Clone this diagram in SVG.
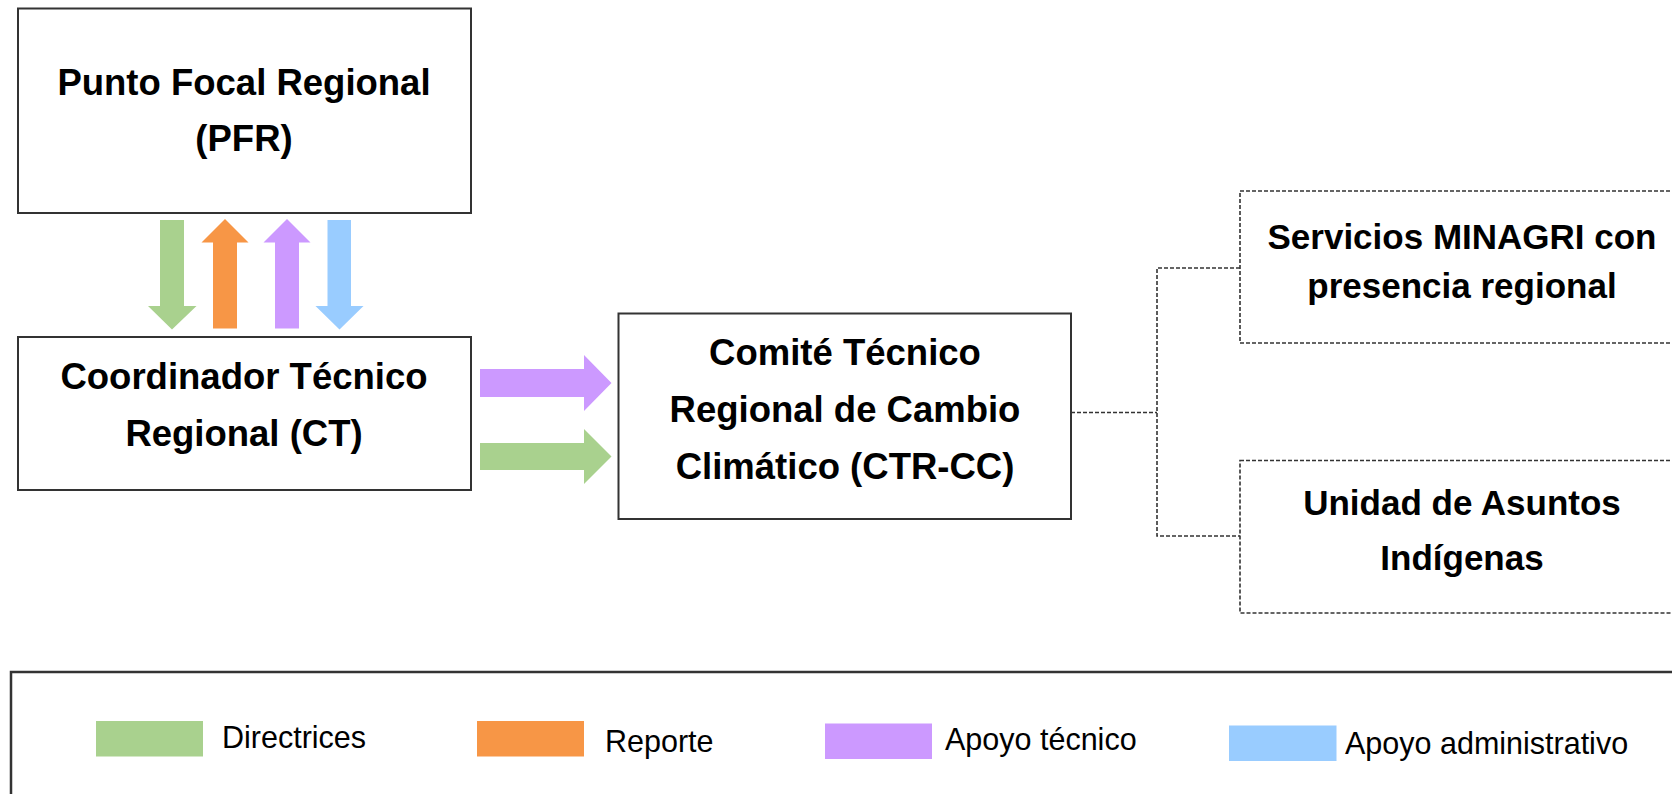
<svg xmlns="http://www.w3.org/2000/svg" width="1672" height="794" viewBox="0 0 1672 794">
<style>
.box{fill:#fff;stroke:#333;stroke-width:2}
.dbox{fill:#fff;stroke:#333;stroke-width:1.6;stroke-dasharray:4 2}
.conn{fill:none;stroke:#333;stroke-width:1.6;stroke-dasharray:4 2}
.t{font-family:"Liberation Sans",Arial,sans-serif;font-weight:bold;font-size:36.5px;fill:#000;text-anchor:middle}
.ts{font-family:"Liberation Sans",Arial,sans-serif;font-weight:bold;font-size:35px;fill:#000;text-anchor:middle}
.lg{font-family:"Liberation Sans",Arial,sans-serif;font-size:30.5px;fill:#000}
.g{fill:#A9D18E}.o{fill:#F79646}.p{fill:#CC99FF}.b{fill:#99CCFF}
</style>
<rect width="1672" height="794" fill="#fff"/>
<g id="connectors">
<path class="g" d="M160,220 H184 V306 H196.5 L172,329.5 L148,306 H160 Z"/>
<path class="o" d="M213,328.5 V242.5 H201.5 L225,219 L248.5,242.5 H237 V328.5 Z"/>
<path class="p" d="M275,328.5 V242.5 H263.5 L287,219 L310.5,242.5 H299 V328.5 Z"/>
<path class="b" d="M327.5,220 H351 V306 H363.5 L339.5,329.5 L315.5,306 H327.5 Z"/>
<path class="p" d="M480,369 H584 V355 L611.5,383 L584,411 V397 H480 Z"/>
<path class="g" d="M480,443 H584 V429 L611.5,456.5 L584,484 V470 H480 Z"/>
<path class="conn" d="M1071,412.5 H1157"/>
<path class="conn" d="M1240,268 H1157 V536 H1240"/>
</g>
<g id="pfr">
<rect class="box" x="18" y="8.5" width="453" height="204.5"/>
<text class="t" x="244" y="94.5">Punto Focal Regional</text>
<text class="t" x="244" y="151">(PFR)</text>
</g>
<g id="ct">
<rect class="box" x="18" y="337" width="453" height="153"/>
<text class="t" x="244" y="389">Coordinador Técnico</text>
<text class="t" x="244" y="446">Regional (CT)</text>
</g>
<g id="ctrcc">
<rect class="box" x="618.5" y="313.5" width="452.5" height="205.5"/>
<text class="t" x="845" y="364.5">Comité Técnico</text>
<text class="t" x="845" y="421.5">Regional de Cambio</text>
<text class="t" x="845" y="479">Climático (CTR-CC)</text>
</g>
<g id="minagri">
<rect class="dbox" x="1240" y="191" width="460" height="152"/>
<text class="ts" x="1462" y="248.5">Servicios MINAGRI con</text>
<text class="ts" x="1462" y="298">presencia regional</text>
</g>
<g id="indigenas">
<rect class="dbox" x="1240" y="460.5" width="460" height="152.5"/>
<text class="ts" x="1462" y="515">Unidad de Asuntos</text>
<text class="ts" x="1462" y="570">Indígenas</text>
</g>
<g id="legend">
<rect x="11" y="672" width="1700" height="200" fill="#fff" stroke="#333" stroke-width="2.5"/>
<rect class="g" x="96" y="721" width="107" height="35.5"/>
<text class="lg" x="222" y="747.5">Directrices</text>
<rect class="o" x="477" y="721" width="107" height="35.5"/>
<text class="lg" x="605" y="751.5">Reporte</text>
<rect class="p" x="825" y="723.5" width="107" height="35.5"/>
<text class="lg" x="945" y="749.5">Apoyo técnico</text>
<rect class="b" x="1229" y="725.5" width="107.5" height="35.5"/>
<text class="lg" x="1345" y="753.5">Apoyo administrativo</text>
</g>
</svg>
